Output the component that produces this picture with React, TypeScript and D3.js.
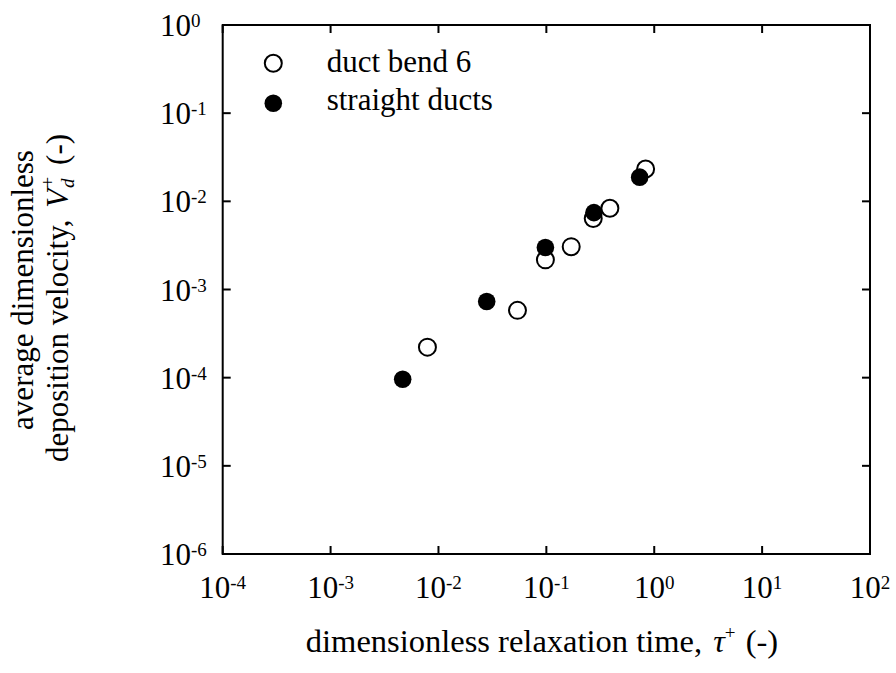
import React from "react";
import * as d3 from "d3";

const bendTau = [0.0079, 0.054, 0.098, 0.17, 0.272, 0.388, 0.832];
const bendVd = [2.22e-4, 5.8e-4, 2.17e-3, 3.06e-3, 6.4e-3, 8.35e-3, 0.0233];
const straightTau = [0.00466, 0.028, 0.098, 0.276, 0.733];
const straightVd = [9.6e-5, 7.3e-4, 2.99e-3, 7.45e-3, 0.0188];

const xTickExps = [-4, -3, -2, -1, 0, 1, 2];
const yTickExps = [0, -1, -2, -3, -4, -5, -6];

const legendLabels = ["duct bend 6", "straight ducts"];

const W = 896;
const H = 673;
const left = 222.7;
const right = 870;
const top = 25;
const bottom = 554;
const FONT = "'Liberation Serif', 'Times New Roman', serif";

export default function App() {
  const x = d3.scaleLog().domain([1e-4, 1e2]).range([left, right]);
  const y = d3.scaleLog().domain([1e-6, 1]).range([bottom, top]);
  const tickLen = 8;
  const fs = 31;
  const sup = 19;

  return (
    <svg
      width={W}
      height={H}
      style={{ position: "absolute", left: 0, top: 0, background: "#fff" }}
      fontFamily={FONT}
    >
      <rect x={0} y={0} width={W} height={H} fill="#fff" />
      {xTickExps.map((e) => {
        const px = x(Math.pow(10, e));
        return (
          <g key={"xt" + e}>
            <line x1={px} x2={px} y1={bottom} y2={bottom - tickLen} stroke="#000" strokeWidth={2} />
            <line x1={px} x2={px} y1={top} y2={top + tickLen} stroke="#000" strokeWidth={2} />
            <text x={px} y={598} fontSize={fs} textAnchor="middle" fill="#000">
              10
              <tspan fontSize={sup} dy={-9}>{String(e)}</tspan>
            </text>
          </g>
        );
      })}
      {yTickExps.map((e) => {
        const py = y(Math.pow(10, e));
        return (
          <g key={"yt" + e}>
            <line x1={left} x2={left + tickLen} y1={py} y2={py} stroke="#000" strokeWidth={2} />
            <line x1={right} x2={right - tickLen} y1={py} y2={py} stroke="#000" strokeWidth={2} />
            <text x={160} y={py + 11} fontSize={fs} textAnchor="start" fill="#000">
              10
              <tspan fontSize={sup} dy={-9}>{String(e)}</tspan>
            </text>
          </g>
        );
      })}
      <rect
        x={left}
        y={top}
        width={right - left}
        height={bottom - top}
        fill="none"
        stroke="#000"
        strokeWidth={2}
      />
      {bendTau.map((t, i) => (
        <circle
          key={"b" + i}
          cx={x(t)}
          cy={y(bendVd[i])}
          r={8.5}
          fill="#fff"
          stroke="#000"
          strokeWidth={2}
        />
      ))}
      {straightTau.map((t, i) => (
        <circle key={"s" + i} cx={x(t)} cy={y(straightVd[i])} r={8.8} fill="#000" />
      ))}
      <circle cx={273.3} cy={63.3} r={8.5} fill="#fff" stroke="#000" strokeWidth={2} />
      <circle cx={273.3} cy={103.3} r={8.8} fill="#000" />
      <text x={326.7} y={71.7} fontSize={fs} fill="#000">{legendLabels[0]}</text>
      <text x={326.7} y={110} fontSize={fs} fill="#000">{legendLabels[1]}</text>
      <text x={542} y={652} fontSize={32.5} textAnchor="middle" fill="#000">
        dimensionless relaxation time,{" "}
        <tspan fontStyle="italic" dx={3}>τ</tspan>
        <tspan fontSize={sup} dy={-13}>+</tspan>
        <tspan dy={13} dx={2}> (-)</tspan>
      </text>
      <text
        transform={`translate(33,290) rotate(-90)`}
        fontSize={fs}
        textAnchor="middle"
        fill="#000"
      >
        average dimensionless
      </text>
      <text
        transform={`translate(68,298) rotate(-90)`}
        fontSize={fs}
        textAnchor="middle"
        fill="#000"
      >
        deposition velocity,{" "}
        <tspan fontStyle="italic" dx={4}>V</tspan>
        <tspan fontStyle="italic" fontSize={sup} dy={6} dx={1}>d</tspan>
        <tspan fontSize={sup} dx={-9} dy={-20}>+</tspan>
        <tspan dy={14} dx={4}> (-)</tspan>
      </text>
    </svg>
  );
}
